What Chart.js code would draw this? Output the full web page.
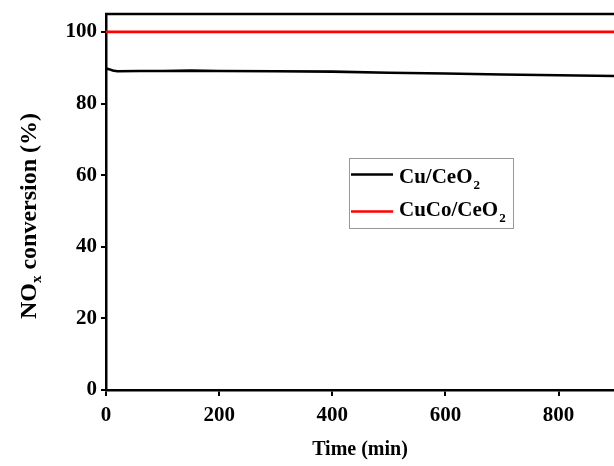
<!DOCTYPE html>
<html>
<head>
<meta charset="utf-8">
<script src="https://cdn.jsdelivr.net/npm/chart.js@4/dist/chart.umd.min.js"></script>
<style>
html,body{margin:0;padding:0;background:#fff;overflow:hidden;}
#wrap{width:614px;height:466px;position:relative;}
</style>
</head>
<body>
<div id="wrap"><canvas id="c" width="614" height="466"></canvas></div>
<script>
// ---- data ----
const cuTimes = [0, 5, 12, 20, 60, 100, 150, 200, 300, 400, 500, 600, 700, 800, 898];
const cuValues = [89.8, 89.6, 89.2, 89.0, 89.1, 89.1, 89.2, 89.1, 89.0, 88.9, 88.6, 88.4, 88.1, 87.9, 87.7];
const cucoTimes = [0, 200, 400, 600, 800, 898];
const cucoValues = [100, 100, 100, 100, 100, 100];
const seriesNames = ["Cu/CeO", "CuCo/CeO"]; // followed by subscript 2
const xTicks = [0, 200, 400, 600, 800];
const yTicks = [0, 20, 40, 60, 80, 100];
const xTitle = "Time (min)";

const FONT = "'Liberation Serif', 'Times New Roman', serif";

const toPts = (xs, ys) => xs.map((x, i) => ({x: x, y: ys[i]}));

const framePlugin = {
  id: 'frame',
  afterDraw(chart) {
    const ctx = chart.ctx, a = chart.chartArea;
    ctx.save();
    // top border
    ctx.strokeStyle = '#000';
    ctx.lineWidth = 2.5;
    ctx.beginPath();
    ctx.moveTo(a.left - 1, a.top);
    ctx.lineTo(a.right + 2, a.top);
    ctx.stroke();

    // y title with subscript
    ctx.fillStyle = '#000';
    ctx.translate(29, 216);
    ctx.rotate(-Math.PI / 2);
    const big = "bold 24px " + FONT, small = "bold 15px " + FONT;
    ctx.font = big;
    const w1 = ctx.measureText("NO").width;
    const w3 = ctx.measureText(" conversion (%)").width;
    ctx.font = small;
    const w2 = ctx.measureText("x").width;
    const total = w1 + w2 + w3;
    let x0 = -total / 2;
    ctx.textBaseline = 'alphabetic';
    ctx.font = big;
    ctx.fillText("NO", x0, 7);
    ctx.font = small;
    ctx.fillText("x", x0 + w1, 12);
    ctx.font = big;
    ctx.fillText(" conversion (%)", x0 + w1 + w2, 7);
    ctx.restore();

    // legend
    ctx.save();
    ctx.strokeStyle = '#999';
    ctx.lineWidth = 1;
    ctx.strokeRect(349.5, 158.5, 164, 70);
    const colors = ['#000', '#ff0000'];
    const lineY = [174.5, 211.5];
    const baseY = [183, 216];
    for (let i = 0; i < 2; i++) {
      ctx.strokeStyle = colors[i];
      ctx.lineWidth = 2.5;
      ctx.beginPath();
      ctx.moveTo(351, lineY[i]);
      ctx.lineTo(393, lineY[i]);
      ctx.stroke();
      ctx.fillStyle = '#000';
      ctx.font = "bold 21px " + FONT;
      ctx.fillText(seriesNames[i], 399, baseY[i]);
      const w = ctx.measureText(seriesNames[i]).width;
      ctx.font = "bold 13px " + FONT;
      ctx.fillText("2", 399 + w + 1, baseY[i] + 6);
    }
    ctx.restore();
  }
};

new Chart(document.getElementById('c'), {
  type: 'scatter',
  data: {
    datasets: [
      {label: 'Cu/CeO2', data: toPts(cuTimes, cuValues), showLine: true, borderColor: '#000', borderWidth: 2.6, pointRadius: 0, tension: 0},
      {label: 'CuCo/CeO2', data: toPts(cucoTimes, cucoValues), showLine: true, borderColor: '#ff0000', borderWidth: 2.8, pointRadius: 0, tension: 0}
    ]
  },
  options: {
    responsive: false,
    animation: false,
    devicePixelRatio: 1,
    layout: {padding: {top: 14, right: 0, left: 0, bottom: 0}},
    plugins: {legend: {display: false}, tooltip: {enabled: false}},
    scales: {
      x: {
        type: 'linear', min: 0, max: 898,
        afterBuildTicks: s => { s.ticks = xTicks.map(v => ({value: v})); },
        afterFit: s => { s.height = 76; s.paddingLeft = 0; s.paddingRight = 0; },
        ticks: {color: '#000', font: {family: FONT, size: 21, weight: 'bold'}, padding: 7, maxRotation: 0, includeBounds: false},
        grid: {drawOnChartArea: false, drawTicks: true, tickLength: 6, color: '#000', lineWidth: 2},
        border: {display: true, color: '#000', width: 2.5},
        title: {display: true, text: xTitle, color: '#000', font: {family: FONT, size: 20, weight: 'bold'}, padding: {top: 6}}
      },
      y: {
        type: 'linear', min: 0, max: 105,
        afterBuildTicks: s => { s.ticks = yTicks.map(v => ({value: v})); },
        afterFit: s => { s.width = 106; s.paddingTop = 0; s.paddingBottom = 0; },
        ticks: {color: '#000', font: {family: FONT, size: 21, weight: 'bold'}, padding: 4, includeBounds: false},
        grid: {drawOnChartArea: false, drawTicks: true, tickLength: 5, color: '#000', lineWidth: 2},
        border: {display: true, color: '#000', width: 2.5}
      }
    }
  },
  plugins: [framePlugin]
});
</script>
</body>
</html>
